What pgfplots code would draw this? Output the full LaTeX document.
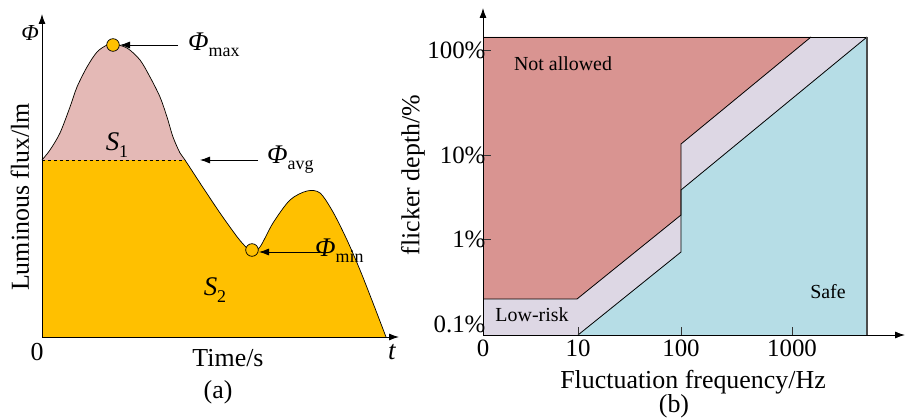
\documentclass[border=0pt]{standalone}
\usepackage{fontspec}
\setmainfont{Liberation Serif}
\usepackage{pgfplots}
\pgfplotsset{compat=1.18}
\usetikzlibrary{arrows.meta}
\definecolor{gold}{HTML}{FFC000}
\definecolor{pinkc}{HTML}{E4B9B6}
\definecolor{redc}{HTML}{D99491}
\definecolor{lavc}{HTML}{DDD7E4}
\definecolor{bluec}{HTML}{B6DDE6}
\newcommand{\fs}[1]{\fontsize{#1}{#1}\selectfont}
\begin{document}
\begin{tikzpicture}
\useasboundingbox (0,0) rectangle (907bp,419bp);
% ---------------- panel (a)
\begin{axis}[at={(42bp,82bp)}, anchor=south west, scale only axis,
  width=357bp, height=323bp, xmin=0, xmax=357, ymin=0, ymax=323,
  axis lines=left, axis line style={line width=0.9bp, -{Latex[length=10bp,width=7bp]}},
  xtick=\empty, ytick=\empty, clip=false, axis on top]
\addplot[fill=gold, draw=none, smooth] coordinates {
(0,177) (8,187) (18,204) (28,230) (35,250) (45,270) (55,285) (65,292) (71,293)
(85,289) (98,277) (108,260) (118,240) (125,220) (131,200) (138,184) (143,177)
(158,154) (178,124) (196,99) (205,89) (210,86) (218,90) (231,114) (248,137)
(265,146) (278,144) (291,125) (305,97) (318,67) (331,34) (344,0)} \closedcycle;
\addplot[fill=pinkc, draw=none, smooth] coordinates {
(0,177) (8,187) (18,204) (28,230) (35,250) (45,270) (55,285) (65,292) (71,293)
(85,289) (98,277) (108,260) (118,240) (125,220) (131,200) (138,184) (143,177)} -- cycle;
\addplot[black, dashed, line width=0.7bp] coordinates {(0,177) (143,177)};
\addplot[black, line width=0.7bp, smooth] coordinates {
(0,177) (8,187) (18,204) (28,230) (35,250) (45,270) (55,285) (65,292) (71,293)
(85,289) (98,277) (108,260) (118,240) (125,220) (131,200) (138,184) (143,177)
(158,154) (178,124) (196,99) (205,89) (210,86) (218,90) (231,114) (248,137)
(265,146) (278,144) (291,125) (305,97) (318,67) (331,34) (344,0)};
\addplot[only marks, mark=*, mark size=6.3bp, mark options={fill=gold, draw=black, line width=0.7bp}] coordinates {(71,292) (210,87)};
\draw[line width=0.8bp, -{Latex[length=10bp,width=7bp]}] (axis cs:136,292) -- (axis cs:78,292);
\draw[line width=0.8bp, -{Latex[length=10bp,width=7bp]}] (axis cs:216,177) -- (axis cs:158,177);
\draw[line width=0.8bp, -{Latex[length=10bp,width=7bp]}] (axis cs:278,85) -- (axis cs:217,85);
\node[anchor=west, inner sep=0pt, font=\fs{27}] at (axis cs:146,292) {\textit{Φ}\raisebox{-6bp}{\fs{18}max}};
\node[anchor=west, inner sep=0pt, font=\fs{27}] at (axis cs:225,177) {\textit{Φ}\raisebox{-6bp}{\fs{18}avg}};
\node[anchor=west, inner sep=0pt, font=\fs{27}] at (axis cs:273,86) {\textit{Φ}\raisebox{-6bp}{\fs{18}min}};
\node[font=\fs{27}] at (axis cs:75,192) {\textit{S}\raisebox{-7bp}{\fs{18}1}};
\node[font=\fs{27}] at (axis cs:173,47) {\textit{S}\raisebox{-7bp}{\fs{18}2}};
\node[rotate=90, font=\fs{26}] at (axis cs:-22,140) {Luminous flux/lm};
\node[font=\fs{26}] at (axis cs:186,-21) {Time/s};
\node[font=\fs{26}] at (axis cs:176,-55) {(a)};
\node[font=\fs{26}] at (axis cs:-5,-15) {0};
\node[font=\fs{27}] at (axis cs:350,-15) {\textit{t}};
\node[font=\fs{23}] at (axis cs:-12,304) {\textit{Φ}};
\end{axis}
% ---------------- panel (b)
\begin{axis}[at={(483bp,84bp)}, anchor=south west, scale only axis,
  width=422bp, height=327bp, xmin=0, xmax=422, ymin=0, ymax=327,
  axis lines=left, axis line style={line width=0.9bp, -{Latex[length=10bp,width=7bp]}},
  xtick={0,95,198,309}, xticklabels={0,10,100,1000},
  ytick={0,96,180,285}, yticklabels={\raisebox{2bp}[0pt][0pt]{0.1\%},1\%,10\%,100\%},
  tick align=inside, major tick length=8bp, tick style={black!80, line width=0.8bp},
  ticklabel style={font=\fs{25}}, yticklabel style={xshift=6bp},
  xticklabel style={yshift=-1bp},
  clip=false, axis on top]
\addplot[fill=lavc, draw=none] coordinates {(0,0) (384,0) (384,298) (0,298)} -- cycle;
\addplot[fill=redc, draw=none] coordinates {(0,36) (94,36) (198,120) (198,191) (328,298) (0,298)} -- cycle;
\addplot[fill=bluec, draw=none] coordinates {(95,0) (198,83) (198,145) (384,298) (384,0)} -- cycle;
\addplot[black, line width=0.8bp] coordinates {(0,36) (94,36) (198,120) (198,191) (328,298)};
\addplot[black, line width=0.8bp] coordinates {(95,0) (198,83) (198,145) (384,298)};
\addplot[black, line width=0.9bp] coordinates {(0,298) (384,298)};
\addplot[black!70, line width=1.3bp] coordinates {(384,0) (384,298)};
\node[font=\fs{20}] at (axis cs:80,271) {Not allowed};
\node[font=\fs{20}] at (axis cs:49,20) {Low-risk};
\node[font=\fs{20}] at (axis cs:345,43) {Safe};
\node[rotate=90, font=\fs{26}] at (axis cs:-70,160) {flicker depth/\%};
\node[font=\fs{26}] at (axis cs:210,-47) {Fluctuation frequency/Hz};
\node[font=\fs{26}] at (axis cs:191,-71) {(b)};
\end{axis}
\end{tikzpicture}
\end{document}
